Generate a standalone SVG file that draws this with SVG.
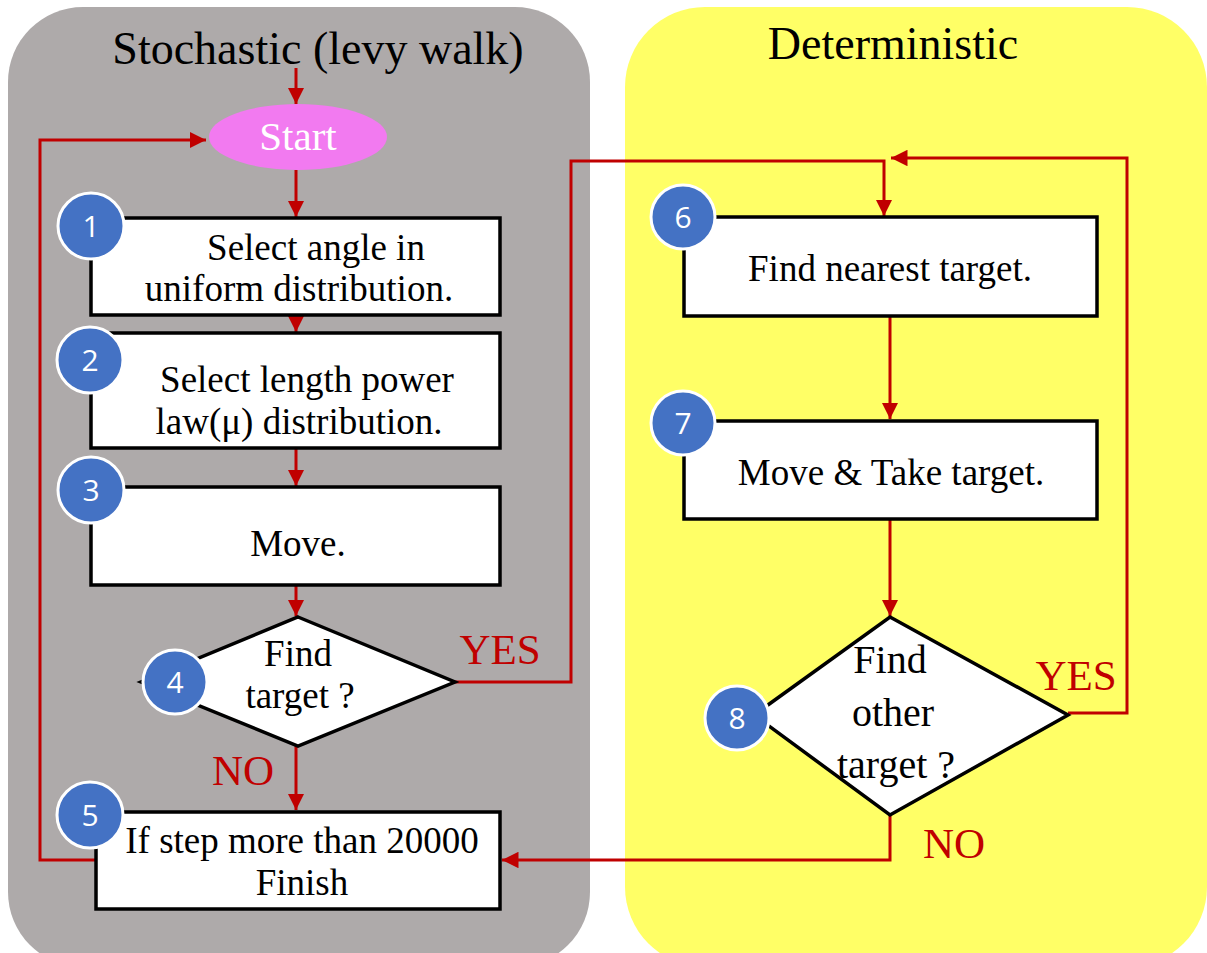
<svg xmlns="http://www.w3.org/2000/svg" width="1207" height="953" viewBox="0 0 1207 953">
<defs>
<marker id="ah" viewBox="0 0 10 10" refX="10" refY="5" markerWidth="5.5" markerHeight="5.5" markerUnits="strokeWidth" orient="auto">
<path d="M0,0 L10,5 L0,10 z" fill="#c00000"/>
</marker>
<style>
.t{font-family:"Liberation Serif","Times New Roman",serif;fill:#000;text-anchor:middle}
.box{fill:#fff;stroke:#000;stroke-width:3.5}
.num{fill:#4472c4;stroke:#fff;stroke-width:3}
.nt{font-family:"Open Sans","Liberation Sans",sans-serif;font-size:30px;fill:#fff;text-anchor:middle}
.c{fill:none;stroke:#c00000;stroke-width:3;marker-end:url(#ah)}
.lb{font-family:"Liberation Serif","Times New Roman",serif;font-size:43px;fill:#c00000;text-anchor:middle}
</style>
</defs>
<g id="panels">
<rect x="8" y="7" width="582" height="960" rx="75" fill="#aeaaaa"/>
<rect x="625" y="7" width="582" height="960" rx="80" fill="#ffff66"/>
<text class="t" x="318" y="64" font-size="46">Stochastic (levy walk)</text>
<text class="t" x="893" y="59" font-size="46">Deterministic</text>
</g>
<g id="connectors">
<line class="c" x1="296" y1="68" x2="296" y2="104"/>
<line class="c" x1="296" y1="170" x2="296" y2="217"/>
<line class="c" x1="296" y1="316" x2="296" y2="332"/>
<line class="c" x1="296" y1="449" x2="296" y2="486"/>
<line class="c" x1="296" y1="586" x2="296" y2="616"/>
<line class="c" x1="296" y1="746" x2="296" y2="810"/>
<polyline class="c" points="95,860 40,860 40,140 206,140"/>
<polyline class="c" points="455,682 571,682 571,161 884,161 884,216"/>
<polyline class="c" points="1068,713 1127,713 1127,158 891,158"/>
<line class="c" x1="890" y1="317" x2="890" y2="419"/>
<line class="c" x1="890" y1="520" x2="890" y2="616"/>
<polyline class="c" points="890,815 890,860 502,860"/>
<text class="lb" x="500" y="664">YES</text>
<text class="lb" x="243" y="785">NO</text>
<text class="lb" x="1076" y="690">YES</text>
<text class="lb" x="954" y="858">NO</text>
</g>
<g id="start">
<ellipse cx="298" cy="137" rx="89" ry="33" fill="#f27af0"/>
<text x="298" y="150" font-family="Liberation Serif, serif" font-size="41" fill="#fff" text-anchor="middle">Start</text>
</g>
<g id="n1">
<rect class="box" x="91" y="218" width="409" height="97"/>
<text class="t" x="316" y="260" font-size="37">Select angle in</text>
<text class="t" x="299" y="301" font-size="37">uniform distribution.</text>
<circle class="num" cx="91" cy="226" r="33"/>
<text class="nt" x="91" y="237">1</text>
</g>
<g id="n2">
<rect class="box" x="91" y="333" width="409" height="115"/>
<text class="t" x="307" y="392" font-size="37">Select length power</text>
<text class="t" x="299" y="434" font-size="37">law(μ) distribution.</text>
<circle class="num" cx="90" cy="360" r="33"/>
<text class="nt" x="90" y="371">2</text>
</g>
<g id="n3">
<rect class="box" x="91" y="487" width="409" height="98"/>
<text class="t" x="298" y="556" font-size="37">Move.</text>
<circle class="num" cx="91" cy="490" r="33"/>
<text class="nt" x="91" y="501">3</text>
</g>
<g id="n4">
<polygon class="box" points="298,617 455,682 298,746 141,682"/>
<text class="t" x="298" y="666" font-size="37">Find</text>
<text class="t" x="300" y="708" font-size="37">target ?</text>
<circle class="num" cx="175" cy="682" r="32"/>
<text class="nt" x="175" y="693">4</text>
</g>
<g id="n5">
<rect class="box" x="96" y="812" width="404" height="97"/>
<text class="t" x="302" y="853" font-size="37">If step more than 20000</text>
<text class="t" x="302" y="895" font-size="37">Finish</text>
<circle class="num" cx="90" cy="815" r="33"/>
<text class="nt" x="90" y="826">5</text>
</g>
<g id="n6">
<rect class="box" x="684" y="217" width="413" height="99"/>
<text class="t" x="890" y="281" font-size="37">Find nearest target.</text>
<circle class="num" cx="683" cy="217" r="32"/>
<text class="nt" x="683" y="228">6</text>
</g>
<g id="n7">
<rect class="box" x="684" y="421" width="413" height="98"/>
<text class="t" x="891" y="485" font-size="37">Move &amp; Take target.</text>
<circle class="num" cx="683" cy="423" r="32"/>
<text class="nt" x="683" y="434">7</text>
</g>
<g id="n8">
<polygon class="box" points="890,617 1068,715 890,815 754,715"/>
<text class="t" x="890" y="673" font-size="40">Find</text>
<text class="t" x="893" y="726" font-size="40">other</text>
<text class="t" x="896" y="778" font-size="40">target ?</text>
<circle class="num" cx="737" cy="718" r="32"/>
<text class="nt" x="737" y="729">8</text>
</g>
</svg>
